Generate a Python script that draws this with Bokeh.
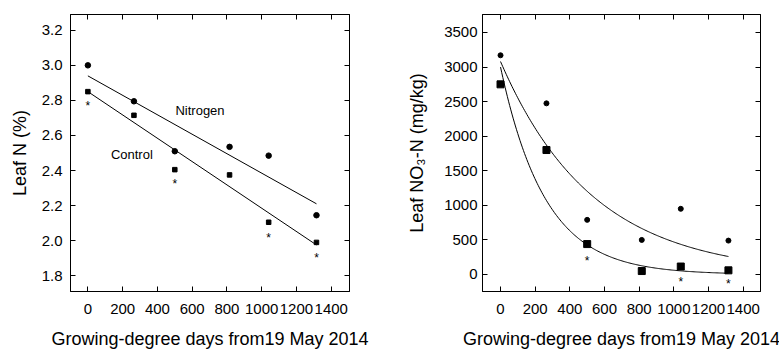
import numpy as np
from bokeh.plotting import figure
from bokeh.layouts import row
from bokeh.models import (FixedTicker, LinearAxis, Range1d, Label,
                          NumeralTickFormatter, CustomJSTickFormatter)
from bokeh.core.properties import value
from bokeh.embed import file_html
from bokeh.resources import INLINE

# ---- data ----
gdd = [0, 265, 500, 815, 1040, 1315]
x_ticks = [0, 200, 400, 600, 800, 1000, 1200, 1400]

leafN_nitrogen = [3.00, 2.795, 2.51, 2.535, 2.485, 2.145]
leafN_control = [2.85, 2.715, 2.405, 2.375, 2.105, 1.99]
leafN_star_x = [0, 500, 1040, 1315]
leafN_star_y = [2.785, 2.34, 2.03, 1.92]
leafN_ticks = [1.8, 2.0, 2.2, 2.4, 2.6, 2.8, 3.0, 3.2]
# linear fits: intercept, slope
leafN_fit_nitrogen = (2.94, -0.000555)
leafN_fit_control = (2.85, -0.000665)

no3_nitrogen = [3170, 2475, 790, 500, 950, 490]
no3_control = [2750, 1800, 440, 50, 115, 60]
no3_star_x = [500, 1040, 1315]
no3_star_y = [235, -70, -95]
no3_ticks = [0, 500, 1000, 1500, 2000, 2500, 3000, 3500]
# exponential fits: a * exp(-b * x)
no3_fit_nitrogen = (3080, 0.00188)
no3_fit_control = (3000, 0.00389)

FONT = "Liberation Sans"
fit_x = np.linspace(0, 1315, 200)


def style(p, yticks, fmt, y_label_standoff, y_axis_standoff):
    p.outline_line_color = "black"
    p.outline_line_width = 1
    p.xgrid.visible = False
    p.ygrid.visible = False
    for ax in p.xaxis + p.yaxis:
        ax.major_tick_in = 5
        ax.major_tick_out = 0
        ax.minor_tick_line_color = None
        ax.axis_line_color = "black"
        ax.major_tick_line_color = "black"
        ax.major_label_text_font = FONT
        ax.major_label_text_font_size = "15px"
        ax.major_label_text_color = "black"
        ax.axis_label_text_font = FONT
        ax.axis_label_text_font_size = "18px"
        ax.axis_label_text_font_style = "normal"
        ax.axis_label_text_color = "black"
    p.xaxis.ticker = FixedTicker(ticks=x_ticks)
    p.yaxis.ticker = FixedTicker(ticks=yticks)
    p.xaxis.major_label_standoff = 12
    p.yaxis.major_label_standoff = y_label_standoff
    p.xaxis.axis_label_standoff = 12
    p.yaxis.axis_label_standoff = y_axis_standoff
    if fmt:
        p.yaxis.formatter = NumeralTickFormatter(format=fmt)
    top = LinearAxis(ticker=FixedTicker(ticks=x_ticks), major_tick_in=5, major_tick_out=0,
                     formatter=CustomJSTickFormatter(code="return ''"), major_label_standoff=0,
                     minor_tick_line_color=None, axis_line_color="black")
    right = LinearAxis(ticker=FixedTicker(ticks=yticks), major_tick_in=5, major_tick_out=0,
                       formatter=CustomJSTickFormatter(code="return ''"), major_label_standoff=0,
                       minor_tick_line_color=None, axis_line_color="black")
    p.add_layout(top, "above")
    p.add_layout(right, "right")


# ---- left panel ----
p1 = figure(width=390, height=352, output_backend="svg", toolbar_location=None,
            x_range=Range1d(-100, 1505), y_range=Range1d(1.71, 3.29),
            min_border_left=70, min_border_right=41, min_border_top=14, min_border_bottom=61,
            x_axis_label="Growing-degree days from19 May 2014", y_axis_label="Leaf N (%)")
style(p1, leafN_ticks, "0.0", 8, 9)

a, b = leafN_fit_nitrogen
p1.line([0, 1315], [a, a + b * 1315], line_color="black", line_width=1)
a, b = leafN_fit_control
p1.line([0, 1315], [a, a + b * 1315], line_color="black", line_width=1)
p1.scatter(gdd, leafN_nitrogen, marker="circle", size=5.5, fill_color="black", line_color="black")
p1.scatter(gdd, leafN_control, marker="square", size=4.5, fill_color="black", line_color="black")
p1.text(leafN_star_x, leafN_star_y, text=["*"] * len(leafN_star_x), text_font=value(FONT),
        text_font_size="12px", text_align="center", text_baseline="middle", y_offset=3,
        text_color="black")
p1.add_layout(Label(x=645, y=2.74, text="Nitrogen", text_font=FONT, text_font_size="13px",
                    text_align="center", text_baseline="middle", text_color="black"))
p1.add_layout(Label(x=253, y=2.49, text="Control", text_font=FONT, text_font_size="13px",
                    text_align="center", text_baseline="middle", text_color="black"))

# ---- right panel ----
p2 = figure(width=389, height=352, output_backend="svg", toolbar_location=None,
            x_range=Range1d(-104, 1500), y_range=Range1d(-246, 3760),
            min_border_left=92, min_border_right=19, min_border_top=14, min_border_bottom=61,
            x_axis_label="Growing-degree days from19 May 2014", y_axis_label="Leaf NO\u2083-N (mg/kg)")
style(p2, no3_ticks, None, 5, 14)

a, b = no3_fit_nitrogen
p2.line(fit_x, a * np.exp(-b * fit_x), line_color="black", line_width=1)
a, b = no3_fit_control
p2.line(fit_x, a * np.exp(-b * fit_x), line_color="black", line_width=1)
p2.scatter(gdd, no3_nitrogen, marker="circle", size=5, fill_color="black", line_color="black")
p2.scatter(gdd, no3_control, marker="square", size=7, fill_color="black", line_color="black")
p2.text(no3_star_x, no3_star_y, text=["*"] * len(no3_star_x), text_font=value(FONT),
        text_font_size="12px", text_align="center", text_baseline="middle", y_offset=3,
        text_color="black")

layout = row(p1, p2)
open("out.html", "w").write(file_html(layout, INLINE))
